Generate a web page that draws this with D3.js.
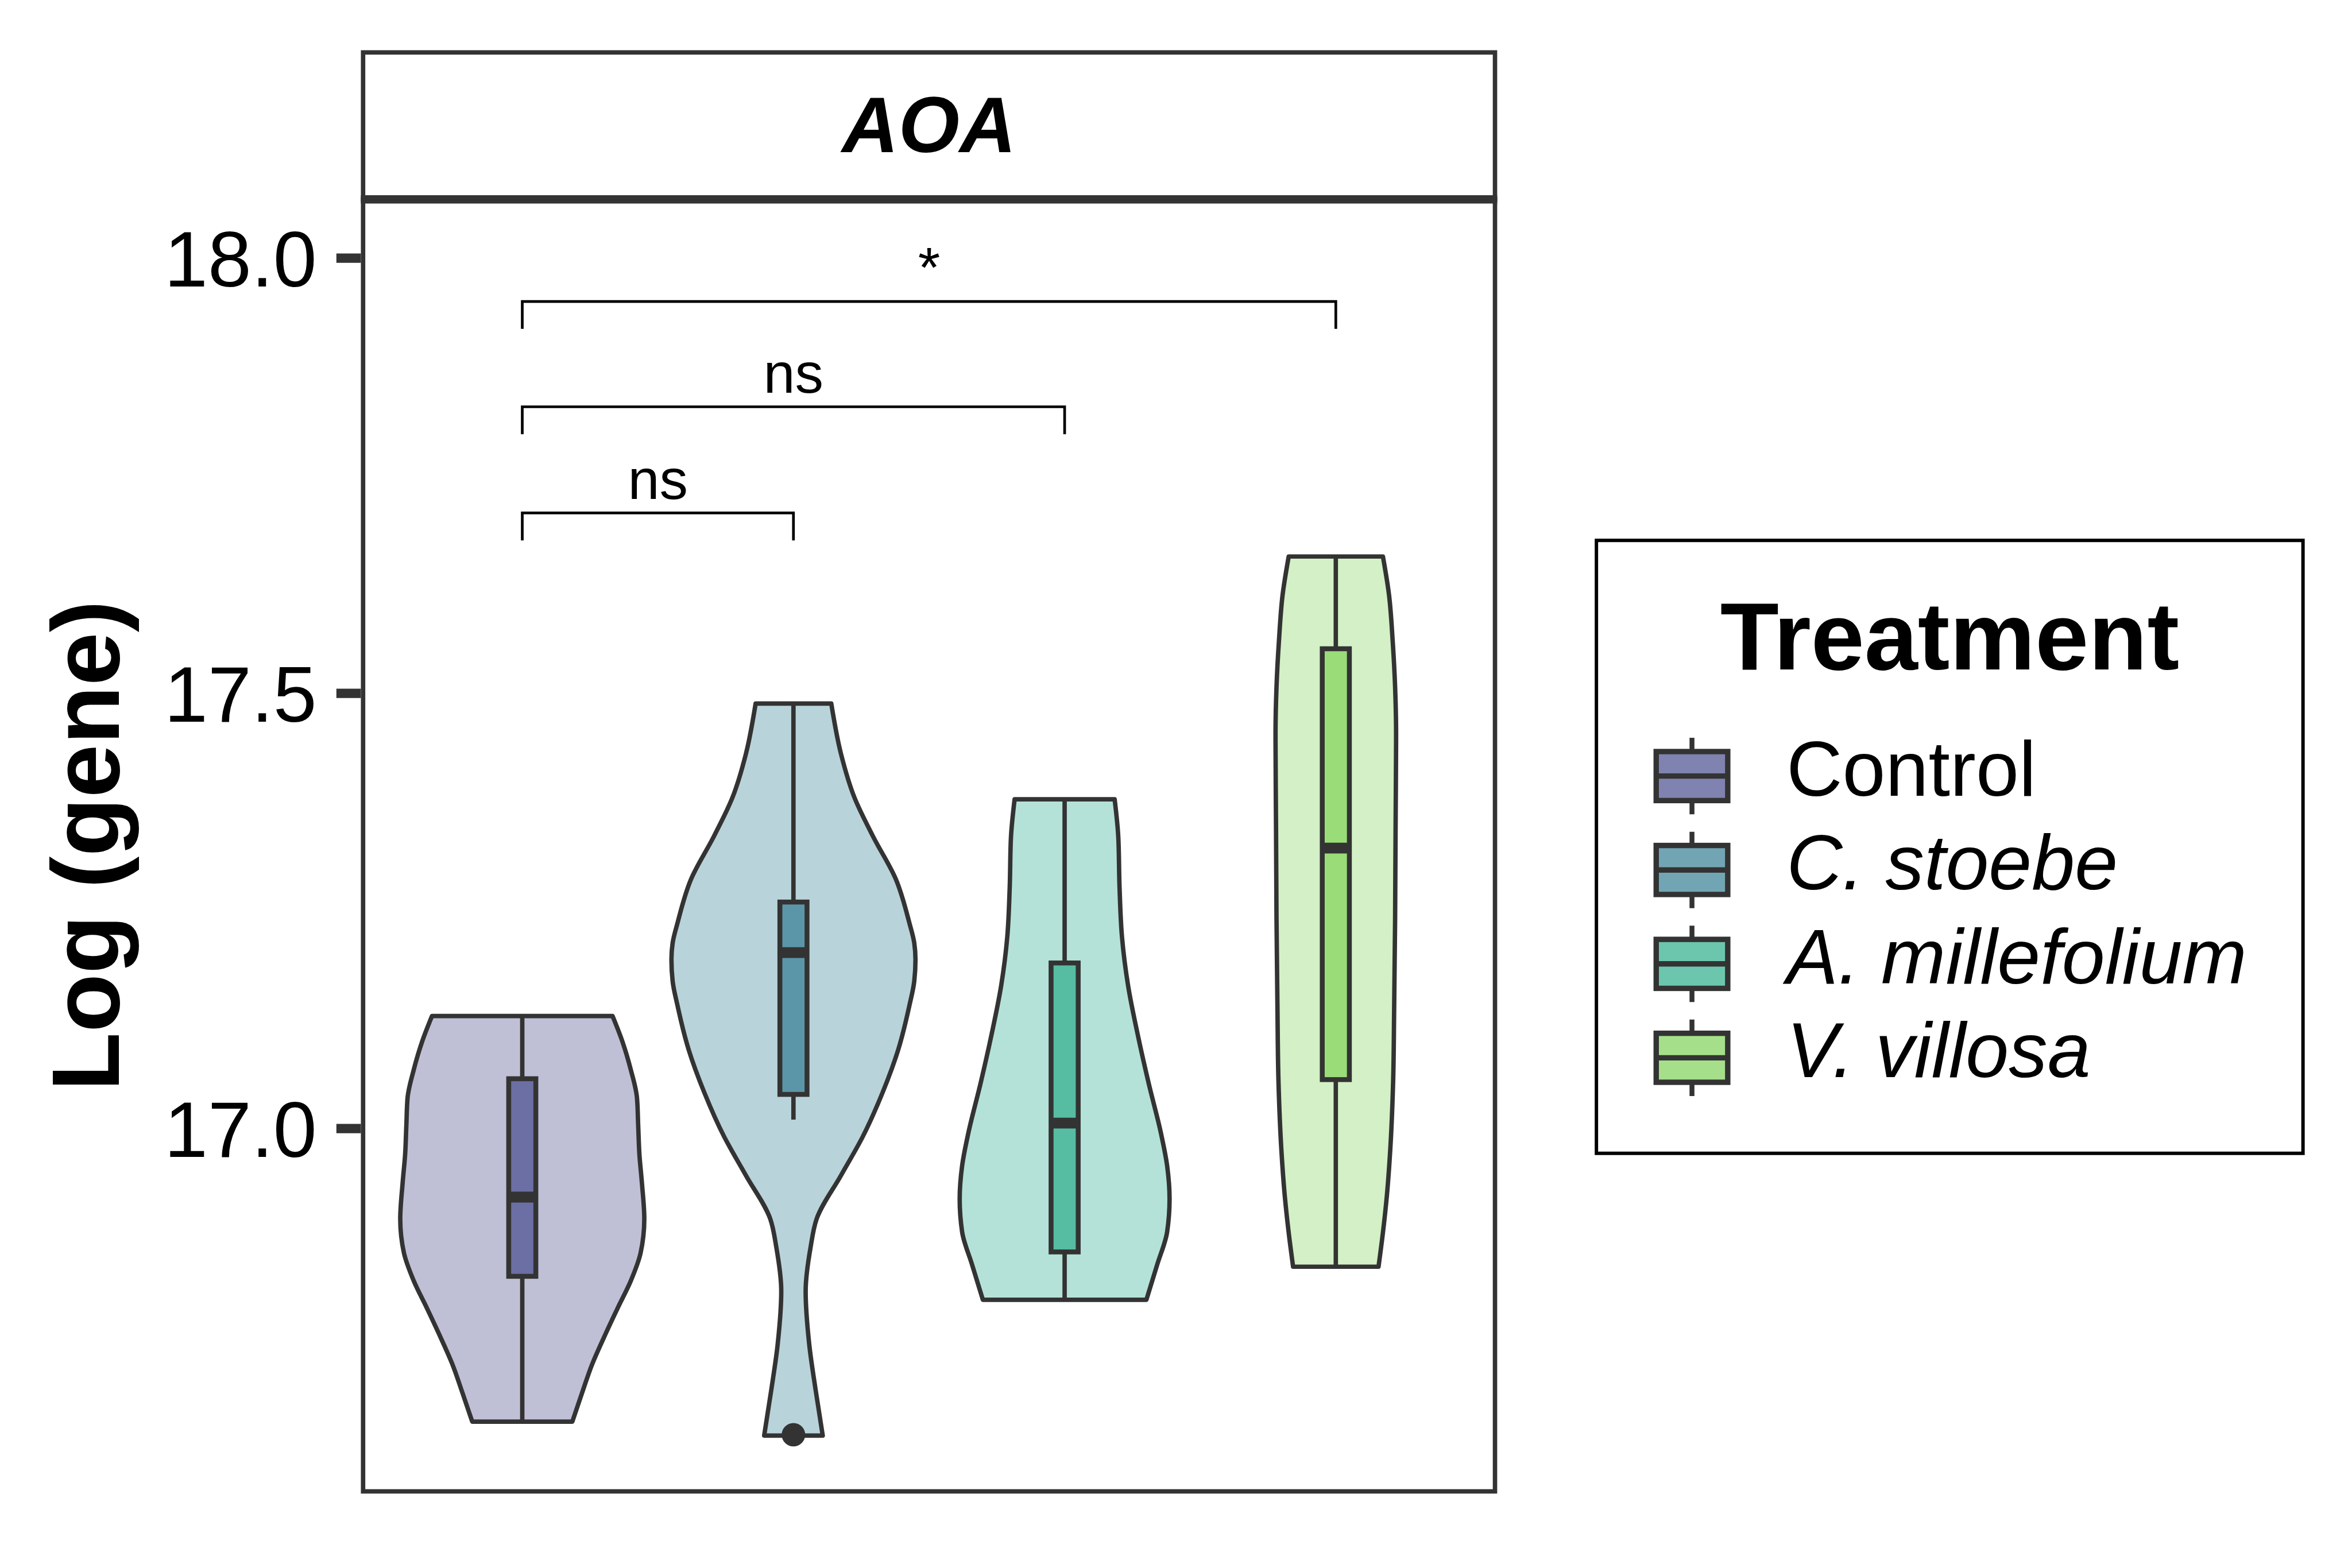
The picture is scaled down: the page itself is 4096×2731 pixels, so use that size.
<!DOCTYPE html>
<html>
<head>
<meta charset="utf-8">
<script src="https://cdn.jsdelivr.net/npm/d3@7"></script>
<style>
  html, body { margin: 0; padding: 0; background: #ffffff; }
  svg { display: block; }
</style>
</head>
<body>
<svg id="chart" width="4096" height="2731"></svg>
<script>
// ---------------- data ----------------
const categories = ["Control", "C. stoebe", "A. millefolium", "V. villosa"];
const legendItalic = [false, true, true, true];
const stripLabel = "AOA";
const yTitle = "Log (gene)";
const legendTitle = "Treatment";
const yTicks = [17.0, 17.5, 18.0];

// violin outline profiles: [value, relative half-width (1 = widest violin)]
const violinControl = [[17.129,0.74],[17.100,0.82],[17.067,0.89],[17.035,0.94],[17.003,0.95],[16.970,0.96],[16.938,0.98],[16.896,1.00],[16.857,0.97],[16.825,0.89],[16.793,0.78],[16.760,0.67],[16.728,0.57],[16.696,0.49],[16.663,0.41]];
const violinStoebe = [[17.488,0.31],[17.430,0.39],[17.380,0.50],[17.336,0.65],[17.286,0.84],[17.236,0.95],[17.213,0.99],[17.194,1.00],[17.169,0.99],[17.141,0.95],[17.091,0.86],[17.041,0.73],[16.991,0.57],[16.946,0.39],[16.896,0.19],[16.863,0.14],[16.813,0.10],[16.751,0.13],[16.701,0.18],[16.647,0.24]];
const violinMillefolium = [[17.378,0.41],[17.334,0.44],[17.277,0.45],[17.220,0.47],[17.164,0.52],[17.107,0.60],[17.051,0.69],[16.994,0.79],[16.957,0.84],[16.919,0.86],[16.881,0.84],[16.844,0.76],[16.803,0.67]];
const violinVillosa = [[17.657,0.386],[17.613,0.436],[17.560,0.466],[17.507,0.486],[17.453,0.494],[17.347,0.490],[17.241,0.486],[17.135,0.478],[17.055,0.470],[16.975,0.446],[16.922,0.418],[16.880,0.386],[16.841,0.350]];

// box plot statistics
const q1 = [16.830, 17.039, 16.858, 17.056];
const medians = [16.921, 17.202, 17.006, 17.322];
const q3 = [17.057, 17.260, 17.190, 17.551];
const whiskerLow = [16.663, 17.010, 16.803, 16.841];
const whiskerHigh = [17.129, 17.488, 17.378, 17.657];
const outlierGroups = ["C. stoebe"];
const outlierValues = [16.648];

// significance comparisons
const compFrom = ["Control", "Control", "Control"];
const compTo = ["V. villosa", "A. millefolium", "C. stoebe"];
const compY = [17.950, 17.829, 17.707];
const compLabels = ["*", "ns", "ns"];

// colours
const violinFill = ["#BFC0D6", "#B9D3DA", "#B4E2D8", "#D3F0C6"];
const boxFill = ["#6C6FA3", "#5B96A8", "#56BDA2", "#9ADC78"];
const keyFill = ["#8082B0", "#72A5B4", "#6BC6AD", "#A6DF8A"];

// ---------------- layout (reference pixel space, scaled to window) ----------------
const S = 4096 / 4800;
const FONT = "'Liberation Sans', Arial, Helvetica, sans-serif";
const INK = "#333333";
const panel = { left: 741, right: 3051, top: 407, bottom: 3044, stripTop: 107 };

const svg = d3.select("#chart");
const root = svg.append("g").attr("transform", `scale(${S})`);
root.append("rect").attr("x", 0).attr("y", 0).attr("width", 4800).attr("height", 3200).attr("fill", "#fff");

const x = d3.scalePoint().domain(categories).range([panel.left, panel.right]).padding(0.587);
const step = x.step();
const y = d3.scaleLinear().domain([16.5829, 18.0622]).range([panel.bottom, panel.top + 9]);
const halfMax = 0.45 * step;

// ---------------- violins ----------------
const violins = [violinControl, violinStoebe, violinMillefolium, violinVillosa];
const plotG = root.append("g");
violins.forEach((prof, i) => {
  const cx = x(categories[i]);
  const area = d3.area()
    .y(d => y(d[0]))
    .x0(d => cx - d[1] * halfMax)
    .x1(d => cx + d[1] * halfMax)
    .curve(d3.curveMonotoneY);
  plotG.append("path")
    .attr("d", area(prof))
    .attr("fill", violinFill[i])
    .attr("stroke", INK)
    .attr("stroke-width", 9)
    .attr("stroke-linejoin", "round");
});

// ---------------- box plots ----------------
const boxHalf = 0.05 * step;
categories.forEach((c, i) => {
  const cx = x(c);
  const g = plotG.append("g");
  g.append("line").attr("x1", cx).attr("x2", cx).attr("y1", y(q3[i])).attr("y2", y(whiskerHigh[i]))
    .attr("stroke", INK).attr("stroke-width", 9);
  g.append("line").attr("x1", cx).attr("x2", cx).attr("y1", y(q1[i])).attr("y2", y(whiskerLow[i]))
    .attr("stroke", INK).attr("stroke-width", 9);
  g.append("rect").attr("x", cx - boxHalf).attr("width", 2 * boxHalf)
    .attr("y", y(q3[i])).attr("height", y(q1[i]) - y(q3[i]))
    .attr("fill", boxFill[i]).attr("stroke", INK).attr("stroke-width", 10);
  g.append("line").attr("x1", cx - boxHalf).attr("x2", cx + boxHalf)
    .attr("y1", y(medians[i])).attr("y2", y(medians[i]))
    .attr("stroke", INK).attr("stroke-width", 22);
});
outlierGroups.forEach((c, i) => {
  plotG.append("circle").attr("cx", x(c)).attr("cy", y(outlierValues[i])).attr("r", 24).attr("fill", INK);
});

// ---------------- significance brackets ----------------
const tip = 56;
compFrom.forEach((a, i) => {
  const xa = x(a), xb = x(compTo[i]), yy = y(compY[i]);
  plotG.append("path")
    .attr("d", d3.line()([[xa, yy + tip], [xa, yy], [xb, yy], [xb, yy + tip]]))
    .attr("fill", "none").attr("stroke", "#000").attr("stroke-width", 5.5);
  plotG.append("text").attr("x", (xa + xb) / 2).attr("y", yy - 29)
    .attr("text-anchor", "middle").attr("font-family", FONT).attr("font-size", 116)
    .attr("fill", "#000").text(compLabels[i]);
});

// ---------------- panel, strip ----------------
root.append("rect").attr("x", panel.left).attr("y", panel.top)
  .attr("width", panel.right - panel.left).attr("height", panel.bottom - panel.top)
  .attr("fill", "none").attr("stroke", INK).attr("stroke-width", 9);
root.append("rect").attr("x", panel.left).attr("y", panel.stripTop)
  .attr("width", panel.right - panel.left).attr("height", panel.top - panel.stripTop)
  .attr("fill", "#fff").attr("stroke", INK).attr("stroke-width", 9);
root.append("line").attr("x1", panel.left - 4.5).attr("x2", panel.right + 4.5)
  .attr("y1", panel.top).attr("y2", panel.top).attr("stroke", INK).attr("stroke-width", 17);
root.append("text").attr("x", (panel.left + panel.right) / 2).attr("y", 311)
  .attr("text-anchor", "middle").attr("font-family", FONT).attr("font-size", 160)
  .attr("font-weight", "bold").attr("font-style", "italic").attr("fill", "#000").text(stripLabel);

// ---------------- y axis ----------------
const yAxis = d3.axisLeft(y).tickValues(yTicks).tickFormat(d3.format(".1f")).tickSize(50).tickPadding(40);
const axG = root.append("g").attr("transform", `translate(${panel.left - 4.5},0)`).call(yAxis);
axG.select(".domain").remove();
axG.selectAll(".tick line").attr("stroke", INK).attr("stroke-width", 19);
axG.selectAll(".tick text").attr("font-family", FONT).attr("font-size", 160).attr("fill", "#000")
  .attr("dy", "0.36em");

root.append("text").attr("transform", `translate(242,1726) rotate(-90)`)
  .attr("text-anchor", "middle").attr("font-family", FONT).attr("font-size", 196)
  .attr("font-weight", "bold").attr("fill", "#000").text(yTitle);

// ---------------- legend ----------------
const lg = root.append("g");
lg.append("rect").attr("x", 3258).attr("y", 1103).attr("width", 4700 - 3258).attr("height", 2354 - 1103)
  .attr("fill", "#fff").attr("stroke", "#000").attr("stroke-width", 7);
lg.append("text").attr("x", 3979).attr("y", 1366).attr("text-anchor", "middle")
  .attr("font-family", FONT).attr("font-size", 196).attr("font-weight", "bold").attr("fill", "#000").text(legendTitle);
const keyY = d3.scalePoint().domain(categories).range([1584, 2159]);
categories.forEach((c, i) => {
  const cy = keyY(c), kx = 3453;
  lg.append("line").attr("x1", kx).attr("x2", kx).attr("y1", cy - 78).attr("y2", cy + 78)
    .attr("stroke", INK).attr("stroke-width", 10);
  lg.append("rect").attr("x", kx - 73).attr("y", cy - 50).attr("width", 146).attr("height", 100)
    .attr("fill", keyFill[i]).attr("stroke", INK).attr("stroke-width", 11);
  lg.append("line").attr("x1", kx - 73).attr("x2", kx + 73).attr("y1", cy).attr("y2", cy)
    .attr("stroke", INK).attr("stroke-width", 11);
  lg.append("text").attr("x", 3646).attr("y", cy + 40)
    .attr("font-family", FONT).attr("font-size", 158)
    .attr("font-style", legendItalic[i] ? "italic" : "normal").attr("fill", "#000").text(c);
});
</script>
</body>
</html>
